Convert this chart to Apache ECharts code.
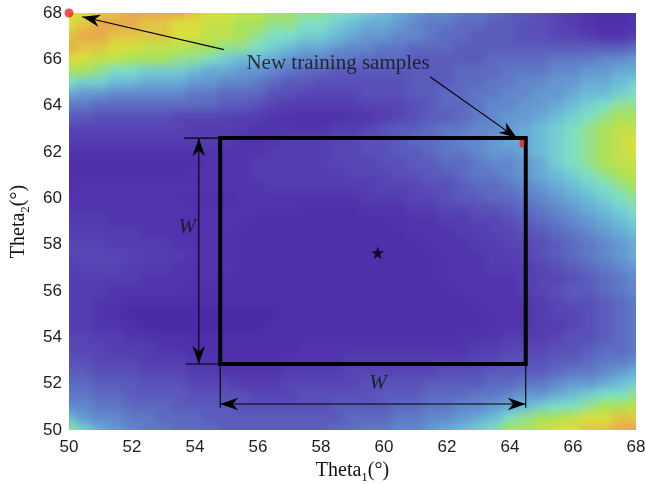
<!DOCTYPE html>
<html><head><meta charset="utf-8">
<script src="https://cdn.jsdelivr.net/npm/echarts@6/dist/echarts.min.js"></script>
<style>
html,body{margin:0;padding:0;background:#fff}
#wrap{position:relative;width:646px;height:485px;overflow:hidden}
#hmclip{position:absolute;left:69px;top:13px;width:567px;height:417px;overflow:hidden}
#hm{position:absolute;left:-30px;top:-30px;width:627px;height:477px;filter:blur(4px)}
#c{position:absolute;left:0;top:0;width:646px;height:485px}
</style>
</head><body><div id="wrap"><div id="hmclip"><div id="hm"></div></div><div id="c"></div></div>
<script>
// grid coordinates (degrees)
const theta1 = [50,50.5,51,51.5,52,52.5,53,53.5,54,54.5,55,55.5,56,56.5,57,57.5,58,58.5,59,59.5,60,60.5,61,61.5,62,62.5,63,63.5,64,64.5,65,65.5,66,66.5,67,67.5,68];
const theta2 = [68,67.5,67,66.5,66,65.5,65,64.5,64,63.5,63,62.5,62,61.5,61,60.5,60,59.5,59,58.5,58,57.5,57,56.5,56,55.5,55,54.5,54,53.5,53,52.5,52,51.5,51,50.5,50];
// field level (0 = darkest purple, 10 = orange); one row per theta2 value
const field = [
[9,9,9.5,9.5,10,10,10,10,9.5,9,9,8.5,8.5,8,8,7.5,7.5,7,7,6.5,6,5.5,5,4.5,4.5,4,4,3.5,3,3,2.5,2,1.5,1,0.5,0.5,1],
[9,9.5,10,10,10,9.5,9.5,9,9,8.5,8.5,8,8,7.5,7.5,7,7,6.5,6,5.5,5.5,5,4.5,4,4,3.5,3.5,3,3,2.5,2.5,2,1.5,1,0.5,0.5,1],
[9.5,10,10,9.5,9.5,9.5,9.5,9,9,8.5,8.5,8,7.5,7,7,6.5,6.5,6,5.5,5,5,4.5,4.5,4,3.5,3.5,3,3,3,2.5,2.5,2,2,1.5,1,1,1.5],
[10,9.5,9.5,9,9,8.5,8.5,8.5,8,8,7.5,7.5,7,6.5,6,5.5,5.5,5,4.5,4.5,4,4,3.5,3.5,3.5,3,3,3,3,3,3,3,3,3,3,3,3.5],
[9,9,8.5,8.5,8,8,8,7.5,7.5,7,6.5,6,6,5.5,5,4.5,4.5,4,4,3.5,3.5,3.5,3,3,3,3,3,3.5,3.5,3.5,3.5,4,4,4,4.5,4.5,5],
[8,8,7.5,7,7,6.5,6.5,6.5,6,5.5,5.5,5,5,4.5,4,3.5,3.5,3,3,3,3,3,3,3,3,3.5,3.5,3.5,4,4,4,4.5,4.5,5,5,5.5,5.5],
[7,6.5,6.5,6,6,5.5,5.5,5.5,5,5,4.5,4.5,4,3.5,3,3,2.5,2.5,2.5,2.5,2.5,2.5,3,3,3,3.5,3.5,4,4,4.5,4.5,5,5,5.5,5.5,6,6.5],
[5.5,5,5,4.5,4.5,4.5,4.5,4.5,4,4,3.5,3.5,3.5,2.5,2.5,2,2,2,2,2.5,2.5,2.5,3,3,3.5,3.5,4,4,4.5,4.5,5,5,5.5,6,6,6.5,7],
[4,4,3.5,3.5,3.5,3.5,3.5,3.5,3.5,3.5,3,3,2.5,2,1.5,1.5,1.5,1.5,1.5,2,2,2,2.5,3,3.5,3.5,4,4.5,4.5,5,5,5.5,6,6.5,7,7.5,7.5],
[3,3,2.5,2.5,2.5,2.5,2.5,2,2,2,2,1.5,1.5,1,1,0.5,0.5,0.5,1,1,1.5,2,2.5,3,3,3.5,4,4.5,5,5,5.5,6,6.5,7,7.5,8,8],
[2,2,2,2,2,2,2,2,1.5,1.5,1.5,1.5,1,1,1,1,1,1.5,1.5,2,2.5,3,3,3.5,4,4,4.5,4.5,5,5.5,6,6.5,7,7.5,8,8.5,8.5],
[1.5,1.5,1.5,1.5,1.5,1.5,1.5,1.5,1.5,1.5,1.5,1,1,1,1.5,1.5,1.5,2,2,2.5,2.5,3,3.5,3.5,4,4.5,4.5,5,5.5,5.5,6,6.5,7,7.5,8,8.5,9],
[1,1,1,1,1,1,1,1,1,1,1,1,1,1.5,1.5,1.5,1.5,2,2,2.5,2.5,3,3,3.5,4,4,4.5,5,5,5.5,6,6.5,7,7.5,8,8.5,9],
[0.5,0.5,0.5,0.5,0.5,0.5,0.5,0.5,0.5,1,1,1,1.5,1.5,1.5,1.5,1.5,2,2,2,2.5,2.5,3,3,3.5,3.5,4,4.5,4.5,5,5.5,6.5,7,7.5,8,8.5,8.5],
[0.5,0.5,0.5,0.5,0.5,0.5,0.5,0.5,1,1,1,1,1.5,1.5,1.5,1.5,1.5,1.5,2,2,2,2.5,2.5,3,3,3.5,4,4,4.5,5,5.5,6,6.5,7,7.5,8,8.5],
[0.5,1,1,1,1,1,1,1,1,1,1,1,1,1.5,1.5,1.5,1.5,1.5,1.5,1.5,2,2,2,2.5,2.5,3,3.5,3.5,4,4.5,5,5.5,6,6.5,7,7.5,8],
[1,1,1,1,1,1,1,1,0.5,0.5,0.5,1,1,1,1,1,1,1,1,1.5,1.5,1.5,2,2,2.5,3,3,3.5,3.5,4,4.5,5,5.5,6,6.5,7,7.5],
[1,1,1,1,1,1,1,1,1,1,1,1,1,1,1,0.5,0.5,0.5,0.5,1,1,1,1.5,1.5,2,2,2.5,2.5,3,3.5,4,4.5,5,5.5,6,6.5,7],
[1.5,1.5,1.5,1,1,1,1,1,1,1,1,1,0.5,0.5,0.5,0.5,0.5,0.5,0.5,0.5,0.5,1,1,1,1.5,1.5,2,2,2.5,3,3.5,4,4.5,5,5.5,6,6.5],
[1.5,1.5,1.5,1.5,1.5,1,1,1,1,1,1,0.5,0.5,0.5,0.5,0.5,0.5,0.5,0.5,0.5,0.5,0.5,1,1,1,1.5,1.5,2,2,2.5,3,3.5,4,4.5,5,5.5,6],
[2,2,2,1.5,1.5,1.5,1.5,1,1,1,1,0.5,0.5,0.5,0.5,0.5,0.5,0.5,0.5,0.5,0.5,0.5,0.5,1,1,1,1.5,1.5,2,2,2.5,3,3.5,4,4.5,5,5.5],
[2,2,2,2,2,1.5,1.5,1.5,1,1,1,0.5,0.5,0.5,0.5,0.5,0.5,0.5,0.5,0.5,0.5,0.5,0.5,0.5,1,1,1,1.5,1.5,2,2.5,3,3.5,4,4.5,5,5.5],
[1.5,2,2,2,1.5,1.5,1.5,1,1,1,1,0.5,0.5,0.5,0.5,0.5,0.5,0.5,0.5,0.5,0.5,0.5,0.5,0.5,1,1,1,1.5,1.5,1.5,2,2.5,3,3.5,4,4.5,5],
[1.5,1.5,1.5,1.5,1.5,1,1,1,1,1,0.5,0.5,0.5,0.5,0.5,0.5,0.5,0.5,0.5,0.5,0.5,0.5,0.5,0.5,1,1,1,1,1,1.5,2,2,2.5,3,3.5,4,4.5],
[1.5,1.5,1.5,1,1,1,1,1,0.5,0.5,0.5,0.5,0.5,0.5,0.5,0.5,0.5,0.5,0.5,0.5,0.5,0.5,0.5,0.5,0.5,1,1,1,1,1.5,2,2.5,3,3,3.5,4,4.5],
[1.5,1.5,1,1,0.5,0.5,0.5,0.5,0.5,0.5,0.5,0.5,0.5,0.5,0.5,0.5,0.5,0.5,0.5,0.5,0.5,0.5,0.5,0.5,0.5,0.5,1,1,1,1,1.5,2,2.5,2.5,3,3.5,4],
[1.5,1.5,1,0.5,0,0,0,0,0,0,0,0,0,0,0.5,0.5,0.5,0.5,0.5,0.5,0.5,0.5,0.5,0.5,0.5,0.5,0.5,1,1,1,1.5,2,2,2.5,3,3.5,4],
[1.5,1.5,1,1,0.5,0,0,0,0,0,0,0,0,0.5,0.5,0.5,0.5,0.5,0.5,0.5,0.5,0.5,0.5,0.5,0.5,0.5,0.5,1,1,1,1.5,1.5,2,2.5,3,3.5,4],
[2,2,1.5,1.5,1,1,0.5,0.5,0.5,0.5,0.5,0.5,0.5,0.5,0.5,0.5,0.5,0.5,0.5,0.5,0.5,0.5,0.5,0.5,0.5,1,1,1,1.5,1.5,1.5,2,2.5,2.5,3,3.5,4],
[2,2,2,1.5,1.5,1.5,1,1,0.5,0.5,0.5,0.5,0.5,0.5,0.5,1,1,1,1,1,1,1,1,1,1,1,1.5,1.5,2,2,2,2.5,2.5,3,3.5,3.5,4],
[2.5,2.5,2,2,2,1.5,1.5,1.5,1,1,0.5,0.5,0.5,0.5,1,1,1,1,1.5,1.5,1.5,1.5,1.5,1.5,1.5,1.5,2,2,2.5,2.5,2.5,3,3,3.5,4,4,4.5],
[3,3,2.5,2.5,2.5,2,2,2,1.5,1.5,1,1,1,1,1.5,1.5,1.5,1.5,2,2,2,2,2,2,2.5,2.5,2.5,3,3,3,3,3.5,4,4,4.5,5,5.5],
[3.5,3.5,3,3,3,2.5,2.5,2.5,2,2,2,1.5,1.5,1.5,2,2,2,2,2,2.5,2.5,2.5,2.5,3,3,3,3,3.5,3.5,4,4,4.5,5,5,5.5,6,6.5],
[4,4,3.5,3.5,3,3,3,3,2.5,2.5,2.5,2.5,2,2,2,2.5,2.5,2.5,2.5,2.5,3,3,3,3.5,3.5,3.5,4,4,4.5,5,5,5.5,6,6.5,7,7,7.5],
[4.5,4.5,4,4,3.5,3.5,3.5,3,3,3,3,2.5,2.5,2.5,2.5,2.5,2.5,3,3,3,3,3.5,3.5,4,4,4.5,4.5,5,5.5,6,6.5,7,7,7.5,8,8,8.5],
[6,5,4.5,4.5,4,4,3.5,3.5,3.5,3,3,3,3,3,3,3,3,3,3.5,3.5,3.5,4,4,4.5,4.5,5,5.5,6,7,7.5,8,8,8.5,9,9,9.5,9.5],
[7.5,6.5,5.5,5,4.5,4,4,3.5,3.5,3.5,3,3,3,3,3,3,3,3.5,3.5,4,4,4.5,4.5,5,5.5,6,6.5,7,8,8,8.5,9,9,9.5,9.5,10,10]
];
const colorStops = ['#4a2ba7','#5134ad','#5745b4','#5b5bbc','#5f78c6','#6598d1','#6cbcd8','#7ddfc6','#a9e15a','#d9e03c','#e9a94b'];
// annotations (data coordinates)
const windowX = [54.8, 64.5];
const windowY = [52.85, 62.6];
const centerPoint = [59.8, 57.65];
const newSamples = [[50, 68], [64.38, 62.37]];
const samplesLabel = {text: 'New training samples', at: [58.54, 65.84]};
const wLabels = [[53.75, 58.76], [59.81, 51.99]];
// arrows: [x1, y1, x2, y2, headAtStart, headAtEnd]
const arrows = [
  [54.92, 66.42, 50.42, 67.84, 0, 1],
  [61.46, 65.25, 64.22, 62.6, 0, 1],
  [54.12, 52.85, 54.12, 62.6, 1, 1],
  [54.8, 51.12, 64.5, 51.12, 1, 1],
  [53.65, 62.6, 54.8, 62.6, 0, 0],
  [53.7, 52.85, 54.8, 52.85, 0, 0],
  [54.8, 52.85, 54.8, 50.96, 0, 0],
  [64.5, 52.85, 64.5, 50.96, 0, 0]
];

const cells = [];
theta2.forEach((y, j) => theta1.forEach((x, i) => cells.push([x, y, field[j][i]])));
const stepX = theta1[1] - theta1[0];
const stepY = theta2[0] - theta2[1];
const nX = theta1.length, nY = theta2.length;

// ---- colour field (own layer, softened like the contour fill) ----
const hm = echarts.init(document.getElementById('hm'), null, {renderer: 'canvas'});
hm.setOption({
  animation: false,
  grid: {left: 30, right: 30, top: 30, bottom: 30, outerBoundsMode: 'none'},
  xAxis: {type: 'value', min: 50, max: 68, show: false},
  yAxis: {type: 'value', min: 50, max: 68, show: false},
  visualMap: {type: 'continuous', show: false, min: 0, max: 10, dimension: 2, seriesIndex: 0, inRange: {color: colorStops}},
  series: [{
    type: 'custom', clip: false,
    encode: {x: 0, y: 1},
    data: cells,
    renderItem: function (params, api) {
      const i = params.dataIndex % nX, j = Math.floor(params.dataIndex / nX);
      const c = api.coord([api.value(0), api.value(1)]);
      const s = api.size([stepX, stepY]);
      let x0 = c[0] - s[0] / 2 - 0.5, x1 = c[0] + s[0] / 2 + 0.5;
      let y0 = c[1] - s[1] / 2 - 0.5, y1 = c[1] + s[1] / 2 + 0.5;
      if (i === 0) x0 -= 40;
      if (i === nX - 1) x1 += 40;
      if (j === 0) y0 -= 40;
      if (j === nY - 1) y1 += 40;
      return {type: 'rect', shape: {x: x0, y: y0, width: x1 - x0, height: y1 - y0}, style: {fill: api.visual('color')}};
    }
  }]
});

// ---- axes and annotations ----
const windowPath = [[windowX[0], windowY[0]], [windowX[0], windowY[1]], [windowX[1], windowY[1]], [windowX[1], windowY[0]], [windowX[0], windowY[0]]];
const serif = 'Liberation Serif, Times New Roman, serif';
const richName = {
  t: {fontFamily: serif, fontSize: 20, color: '#111', lineHeight: 22, verticalAlign: 'top'},
  s: {fontFamily: serif, fontSize: 13, color: '#111', lineHeight: 13, padding: [10, 0, 0, 0], verticalAlign: 'top'}
};

const chart = echarts.init(document.getElementById('c'), null, {renderer: 'canvas'});
chart.setOption({
  animation: false,
  backgroundColor: 'transparent',
  grid: {left: 69, right: 10, top: 13, bottom: 55, containLabel: false, outerBoundsMode: 'none'},
  xAxis: {
    type: 'value', min: 50, max: 68, interval: 2,
    axisLine: {show: false}, axisTick: {show: false}, splitLine: {show: false},
    axisLabel: {fontFamily: 'Liberation Sans, Arial, sans-serif', fontSize: 17, color: '#222', margin: 9},
    name: '{t|Theta}{s|1}{t|(°)}', nameLocation: 'middle', nameGap: 28,
    nameTextStyle: {rich: richName}
  },
  yAxis: {
    type: 'value', min: 50, max: 68, interval: 2,
    axisLine: {show: false}, axisTick: {show: false}, splitLine: {show: false},
    axisLabel: {fontFamily: 'Liberation Sans, Arial, sans-serif', fontSize: 17, color: '#222', margin: 7},
    name: '{t|Theta}{s|2}{t|(°)}', nameLocation: 'middle', nameGap: 35, nameRotate: 90,
    nameTextStyle: {rich: richName}
  },
  series: [
    {
      type: 'line', data: windowPath, symbol: 'none', clip: false, z: 5,
      lineStyle: {color: '#000', width: 4, join: 'miter', cap: 'square'}
    },
    {
      type: 'custom', clip: false, z: 6,
      encode: {x: [0, 2], y: [1, 3]},
      data: arrows,
      renderItem: function (params, api) {
        const p1 = api.coord([api.value(0), api.value(1)]);
        const p2 = api.coord([api.value(2), api.value(3)]);
        const dx = p2[0] - p1[0], dy = p2[1] - p1[1];
        const len = Math.hypot(dx, dy);
        const ux = dx / len, uy = dy / len, nx = -uy, ny = ux;
        const L = 18, W = 12.5, N = 0.7;
        function head(tip, sg) {
          const bx = tip[0] - sg * ux * L, by = tip[1] - sg * uy * L;
          const mx = tip[0] - sg * ux * L * N, my = tip[1] - sg * uy * L * N;
          return {type: 'polygon', shape: {points: [tip, [bx + nx * W / 2, by + ny * W / 2], [mx, my], [bx - nx * W / 2, by - ny * W / 2]]},
                  style: {fill: '#000'}};
        }
        const children = [{type: 'line', shape: {x1: p1[0], y1: p1[1], x2: p2[0], y2: p2[1]}, style: {stroke: '#000', lineWidth: 1.1}}];
        if (api.value(4)) children.push(head(p1, -1));
        if (api.value(5)) children.push(head(p2, 1));
        return {type: 'group', children: children};
      }
    },
    {
      type: 'scatter', data: [centerPoint], clip: false, z: 7,
      symbol: 'path://M50,0 L61.2,34.5 L97.6,34.5 L68.2,55.9 L79.4,90.5 L50,69.1 L20.6,90.5 L31.8,55.9 L2.4,34.5 L38.8,34.5 Z',
      symbolSize: 13, itemStyle: {color: '#000'}
    },
    {
      type: 'scatter', data: newSamples, clip: false, z: 8,
      symbolSize: function (v, p) { return p.dataIndex === 0 ? 9 : [5, 8]; },
      itemStyle: {color: '#e8261c'}
    },
    {
      type: 'scatter', data: [samplesLabel.at], clip: false, z: 9,
      symbolSize: 1, itemStyle: {color: 'rgba(0,0,0,0)'},
      label: {show: true, position: 'inside', formatter: samplesLabel.text, fontFamily: serif, fontSize: 21, color: '#111'}
    },
    {
      type: 'scatter', data: wLabels, clip: false, z: 9,
      symbolSize: 1, itemStyle: {color: 'rgba(0,0,0,0)'},
      label: {show: true, position: 'inside', formatter: 'W', fontFamily: serif, fontStyle: 'italic', fontSize: 21, color: '#111'}
    }
  ]
});
</script>
</body></html>
